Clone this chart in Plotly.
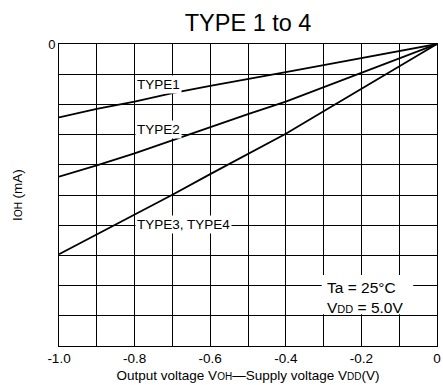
import plotly.graph_objects as go

# Output voltage relative to supply (V)
v_out = [-1.0, -0.9, -0.8, -0.7, -0.6, -0.5, -0.4, -0.3, -0.2, -0.1, 0.0]
# High-level output current (arbitrary grid units, mA)
i_type1 = [-2.43, -2.15, -1.91, -1.63, -1.39, -1.17, -0.93, -0.70, -0.46, -0.23, 0.0]
i_type2 = [-4.39, -4.02, -3.62, -3.18, -2.74, -2.32, -1.91, -1.43, -0.96, -0.48, 0.0]
i_type34 = [-6.96, -6.31, -5.66, -4.99, -4.31, -3.65, -2.97, -2.23, -1.48, -0.73, 0.0]

x_tick_vals = [-1.0, -0.8, -0.6, -0.4, -0.2, 0.0]
x_tick_text = ["-1.0", "-0.8", "-0.6", "-0.4", "-0.2", "0"]
y_tick_vals = [-10, -9, -8, -7, -6, -5, -4, -3, -2, -1, 0]
y_tick_text = ["", "", "", "", "", "", "", "", "", "", "0"]

FONT = "Liberation Sans, Arial, sans-serif"


def small(s, px):
    return "<span style='font-size:%dpx'>%s</span>" % (px, s)


fig = go.Figure()
for series in (i_type1, i_type2, i_type34):
    fig.add_trace(go.Scatter(x=v_out, y=series, mode="lines",
                             line=dict(color="black", width=1.8),
                             showlegend=False, hoverinfo="skip"))

labels = [("TYPE1", -0.8, -1.34), ("TYPE2", -0.8, -2.83), ("TYPE3, TYPE4", -0.8, -5.99)]
for text, lx, ly in labels:
    fig.add_annotation(x=lx, y=ly, text=text, showarrow=False, xanchor="left",
                       yanchor="middle", bgcolor="white", borderpad=1,
                       font=dict(family=FONT, size=13.5, color="black"))

# white panel behind the test-condition note
fig.add_shape(type="rect", xref="x", yref="y", x0=-0.305, x1=-0.063, y0=-7.65, y1=-8.95,
              fillcolor="white", line=dict(width=0), layer="above")
fig.add_annotation(x=-0.296, y=-8.38,
                   text="Ta = 25°C<br>V" + small("DD", 11) + " = 5.0V",
                   showarrow=False, xanchor="left", yanchor="middle", align="left",
                   font=dict(family=FONT, size=15.5, color="black"))

fig.update_layout(
    width=443, height=385,
    margin=dict(l=59, r=6, t=44, b=39, autoexpand=False),
    paper_bgcolor="white", plot_bgcolor="white",
    title=dict(text="TYPE 1 to 4", x=0.56, xanchor="center", y=0.94, yanchor="middle",
               font=dict(family=FONT, size=23.5, color="black")),
    font=dict(family=FONT, size=13.5, color="black"),
)
fig.update_xaxes(range=[-1.0, 0.0], tickvals=x_tick_vals, ticktext=x_tick_text,
                 showgrid=True, gridcolor="black", gridwidth=1,
                 minor=dict(dtick=0.1, tick0=0, showgrid=True, gridcolor="black", gridwidth=1, ticks=""),
                 showline=True, linecolor="black", linewidth=1, mirror=True,
                 zeroline=False, ticks="", tickfont=dict(size=13.5), automargin=False,
                 title=dict(text="Output voltage V" + small("OH", 10) + "—Supply voltage V" + small("DD", 10) + "(V)",
                            font=dict(size=13.5), standoff=5))
fig.update_yaxes(range=[-10, 0], tickvals=y_tick_vals, ticktext=y_tick_text,
                 showgrid=True, gridcolor="black", gridwidth=1,
                 showline=True, linecolor="black", linewidth=1, mirror=True,
                 zeroline=False, ticks="", tickfont=dict(size=13), automargin=False,
                 title=dict(text="I" + small("OH", 10) + " (mA)", font=dict(size=13.5), standoff=22))

fig.write_html("out.html")
